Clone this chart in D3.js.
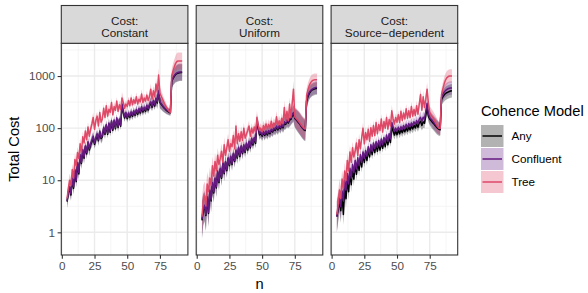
<!DOCTYPE html>
<html>
<head>
<meta charset="utf-8">
<script src="https://cdn.jsdelivr.net/npm/d3@7"></script>
<style>
  body { margin: 0; background: #fff; }
  svg text { font-family: "Liberation Sans", Arial, sans-serif; }
</style>
</head>
<body>
<svg id="chart" width="588" height="293"></svg>
<script>
// n values (x categories)
const nValues = [4,5,6,7,8,9,10,11,12,13,14,15,16,17,18,19,20,21,22,23,24,25,26,27,28,29,30,31,32,33,
  34,35,36,37,38,39,40,41,42,43,44,45,46,47,48,49,50,51,52,53,54,55,56,57,58,59,60,61,62,63,
  64,65,66,67,68,69,70,71,72,73,74,75,76,77,78,79,80,81,82,83,84,85,86,87,88,89,90,91,92];

const facetNames = ["Constant", "Uniform", "Source\u2212dependent"];
const models = ["Any", "Confluent", "Tree"];
const modelColors = ["#000004", "#641a80", "#de4968"];
const xTicks = [0, 25, 50, 75];
const xMinor = [12.5, 37.5, 62.5, 87.5];
const yTicks = [1, 10, 100, 1000];
const yMinor = [3.162, 31.62, 316.2, 3162];

// Cost: Constant
const constantAny = [3.9,5.7,7.2,5.2,10.5,7,15.2,9.4,21,13.2,
  29.5,21,37,26.5,44,32,52,38,48,55,
  66,49,61,74,57,84,63,68,99,76,
  112,76,120,83,133,91,137,97,150,103,
  143,109,276,200,157,190,152,185,162,195,
  169,204,176,217,185,226,195,245,204,239,
  211,261,223,271,304,252,323,266,361,304,
  500,310,287,265,246,232,219,209,202,198,
  780,895,990,1070,1115,1145,1160,1165,1165];
const constantConfluent = [4,6,7.5,5.5,11,7.5,16,10,22,14,
  31,22,39,28,46,34,55,40,50,58,
  70,52,64,78,60,88,66,72,104,80,
  118,80,126,88,140,96,144,102,158,108,
  150,115,290,210,165,200,160,195,170,205,
  178,215,185,228,195,238,205,258,215,252,
  222,275,235,285,320,265,340,280,380,320,
  520,320,295,272,253,238,225,215,208,203,
  800,920,1020,1100,1150,1180,1195,1200,1200];
const constantTree = [4.5,7,10,8,16,11,25,19,34,26,
  50,34,68,52,88,60,105,70,95,120,
  160,95,140,170,110,200,130,150,240,160,
  270,170,230,200,310,180,260,220,330,210,
  280,230,380,310,240,290,260,340,270,380,
  280,350,300,400,290,360,320,450,310,380,
  330,430,340,400,560,360,520,400,700,480,
  1050,470,410,360,315,280,250,228,212,200,
  1000,1250,1500,1750,1900,1950,1950,1950,1950];
const constantSpread = [1.35,1.3,1.35,1.3,1.3,1.35,1.3,1.3,1.28,1.3,
  1.28,1.3,1.25,1.3,1.25,1.28,1.25,1.3,1.22,1.28,
  1.25,1.22,1.28,1.22,1.25,1.2,1.25,1.22,1.2,1.25,
  1.22,1.2,1.25,1.2,1.22,1.2,1.22,1.18,1.2,1.22,
  1.2,1.18,1.3,1.22,1.2,1.18,1.2,1.18,1.2,1.22,
  1.18,1.2,1.18,1.22,1.18,1.2,1.18,1.25,1.18,1.2,
  1.18,1.22,1.2,1.22,1.28,1.2,1.25,1.2,1.3,1.3,
  1.35,1.3,1.28,1.25,1.22,1.2,1.18,1.16,1.15,1.15,
  1.35,1.38,1.4,1.42,1.45,1.45,1.45,1.45,1.45];

// Cost: Uniform
const uniformAny = [1.7,2.7,3.1,2.1,4.6,2.3,6.2,4.0,8.6,5.7,
  10.5,7.1,14.3,9,16.2,10.9,21,13.3,22,15.2,
  25.7,19,27.6,20,31.4,22.8,36,26.6,41,28.5,
  43.7,32.3,45.6,34.2,49.4,38,53.2,41.8,61,47.5,
  63,51,128,106,74,80,70,82,72,84,
  74,86,78,90,84,95,90,105,92,106,
  97,114,101,125,118,137,125,142,147,171,
  190,154,145,135,126,117,107,99,93,90,
  325,400,460,505,535,552,566,576,576];
const uniformConfluent = [1.8,2.8,3.3,2.2,4.8,2.4,6.5,4.2,9,6,
  11,7.5,15,9.5,17,11.5,22,14,23,16,
  27,20,29,21,33,24,38,28,43,30,
  46,34,48,36,52,40,56,44,64,50,
  66,54,135,112,78,84,74,86,76,88,
  78,90,82,95,88,100,95,110,97,112,
  102,120,106,132,124,144,132,150,155,180,
  200,160,150,140,130,120,110,102,96,93,
  340,420,480,525,555,575,590,600,600];
const uniformTree = [2,4,5,3.2,8.5,6,11,8,19,12,
  23,15,30,20,26,36,22,48,30,42,
  60,36,50,44,72,40,110,50,78,56,
  85,58,100,64,76,90,110,70,100,80,
  105,82,160,112,90,100,85,112,95,120,
  96,118,100,135,104,125,110,165,112,138,
  116,155,122,250,135,210,140,290,160,300,
  560,165,155,145,135,125,115,106,100,97,
  420,540,650,740,800,830,845,850,850];
const uniformSpread = [2.3,2.0,1.9,2.0,1.7,1.8,1.6,1.65,1.5,1.55,
  1.45,1.5,1.4,1.45,1.38,1.42,1.35,1.4,1.33,1.38,
  1.32,1.35,1.3,1.33,1.3,1.32,1.35,1.3,1.28,1.3,
  1.28,1.3,1.28,1.26,1.28,1.25,1.28,1.25,1.26,1.25,
  1.25,1.24,1.35,1.3,1.25,1.24,1.25,1.24,1.25,1.26,
  1.24,1.25,1.24,1.26,1.24,1.25,1.24,1.3,1.24,1.25,
  1.24,1.26,1.25,1.35,1.26,1.32,1.26,1.35,1.3,1.4,
  1.45,1.5,1.55,1.58,1.6,1.6,1.6,1.6,1.6,1.6,
  1.38,1.35,1.33,1.32,1.32,1.32,1.32,1.32,1.32];

// Cost: Source-dependent
const sourceAny = [2,2.8,3.9,2.6,5,2.2,6.8,4.4,10,6,
  13.5,8.2,16.5,10.5,20.5,13,23,15.5,26.5,18,
  31.5,22,33,24,38.5,28,42,31,46,34,
  48.5,36,51,38,55,41,57,44,64,48,
  68,53,108,88,74,88,75,92,78,94,
  82,96,85,102,88,106,92,110,96,114,
  101,120,104,126,135,112,132,124,176,240,
  170,150,140,130,122,114,106,100,95,93,
  350,395,430,460,478,492,505,515,520];
const sourceConfluent = [2,3.1,4.5,3.1,6.2,4,10,6.5,13.5,8.5,
  17,11,20,14,24,16.5,27,19,31,22,
  35,26,37,29,44,32,48,36,52,40,
  55,43,58,45,62,48,66,52,74,56,
  78,62,128,105,86,100,88,104,90,106,
  94,112,98,118,102,122,108,126,112,132,
  118,140,122,148,160,134,162,150,210,300,
  190,160,150,140,130,120,112,105,100,98,
  390,440,490,525,550,570,582,590,590];
const sourceTree = [2.2,3.4,6.5,4.5,10.5,7,15,10,24,15,
  35,22,42,28,36,52,30,60,40,66,
  100,50,82,60,95,56,102,70,112,72,
  128,78,118,90,150,84,134,100,160,96,
  146,110,215,150,120,160,130,180,128,210,
  140,195,150,235,155,215,160,260,170,228,
  175,270,185,290,440,220,400,250,360,560,
  300,200,180,165,150,135,120,108,100,98,
  440,560,700,830,920,970,1000,1000,1000];
const sourceSpread = [2.0,1.8,1.6,1.7,1.5,1.6,1.45,1.5,1.4,1.42,
  1.35,1.38,1.32,1.35,1.3,1.32,1.28,1.3,1.27,1.28,
  1.28,1.26,1.27,1.25,1.26,1.24,1.25,1.24,1.25,1.23,
  1.24,1.22,1.23,1.22,1.24,1.22,1.23,1.21,1.23,1.22,
  1.22,1.21,1.3,1.25,1.22,1.21,1.22,1.21,1.22,1.23,
  1.21,1.22,1.21,1.24,1.21,1.22,1.21,1.25,1.21,1.22,
  1.21,1.24,1.22,1.25,1.3,1.24,1.3,1.25,1.28,1.35,
  1.3,1.32,1.34,1.35,1.36,1.36,1.36,1.35,1.33,1.33,
  1.3,1.32,1.33,1.34,1.35,1.35,1.35,1.35,1.35];

const panels = [
  { name: facetNames[0], series: [constantAny, constantConfluent, constantTree], spread: constantSpread },
  { name: facetNames[1], series: [uniformAny, uniformConfluent, uniformTree], spread: uniformSpread },
  { name: facetNames[2], series: [sourceAny, sourceConfluent, sourceTree], spread: sourceSpread }
];

const svg = d3.select("#chart");
const panelTop = 43.3, panelBottom = 255, stripTop = 5.5;
const panelW = 126.6, gap = 8.3, left0 = 61.3;
const panelH = panelBottom - panelTop;

// ggplot-like 5% expansion of x
const ext = d3.extent(nValues);
const pad = (ext[1] - ext[0]) * 0.05;
const x = d3.scaleLinear().domain([ext[0] - pad, ext[1] + pad]).range([0, panelW]);
const y = d3.scaleLog().domain([0.367, 4250]).range([panelH, 0]);

const defs = svg.append("defs");
defs.append("clipPath").attr("id", "clip")
  .append("rect").attr("width", panelW).attr("height", panelH);

panels.forEach((p, pi) => {
  const px = left0 + pi * (panelW + gap);
  const g = svg.append("g").attr("transform", `translate(${px},${panelTop})`);

  // grid
  g.selectAll(".ymin").data(yMinor).enter().append("line")
    .attr("x1", 0).attr("x2", panelW).attr("y1", d => y(d)).attr("y2", d => y(d))
    .attr("stroke", "#f2f2f2").attr("stroke-width", 0.8);
  g.selectAll(".xmin").data(xMinor).enter().append("line")
    .attr("y1", 0).attr("y2", panelH).attr("x1", d => x(d)).attr("x2", d => x(d))
    .attr("stroke", "#f2f2f2").attr("stroke-width", 0.8);
  g.selectAll(".ymaj").data(yTicks).enter().append("line")
    .attr("x1", 0).attr("x2", panelW).attr("y1", d => y(d)).attr("y2", d => y(d))
    .attr("stroke", "#ebebeb").attr("stroke-width", 1.4);
  g.selectAll(".xmaj").data(xTicks).enter().append("line")
    .attr("y1", 0).attr("y2", panelH).attr("x1", d => x(d)).attr("x2", d => x(d))
    .attr("stroke", "#ebebeb").attr("stroke-width", 1.4);

  const plot = g.append("g").attr("clip-path", "url(#clip)");

  // ribbons
  p.series.forEach((vals, si) => {
    const area = d3.area()
      .x((d, i) => x(nValues[i]))
      .y0((d, i) => y(d / p.spread[i]))
      .y1((d, i) => y(d * p.spread[i]));
    plot.append("path").datum(vals)
      .attr("d", area)
      .attr("fill", modelColors[si])
      .attr("fill-opacity", 0.3);
  });
  // lines
  p.series.forEach((vals, si) => {
    const line = d3.line().x((d, i) => x(nValues[i])).y(d => y(d));
    plot.append("path").datum(vals)
      .attr("d", line)
      .attr("fill", "none")
      .attr("stroke", modelColors[si])
      .attr("stroke-width", 1.5)
      .attr("stroke-linejoin", "round");
  });

  // panel border
  g.append("rect").attr("width", panelW).attr("height", panelH)
    .attr("fill", "none").attr("stroke", "#333333").attr("stroke-width", 1.1);

  // strip
  const strip = svg.append("g").attr("transform", `translate(${px},${stripTop})`);
  strip.append("rect").attr("width", panelW).attr("height", panelTop - stripTop)
    .attr("fill", "#d9d9d9").attr("stroke", "#333333").attr("stroke-width", 1.1);
  strip.append("text").attr("x", panelW / 2).attr("y", 19.4)
    .attr("text-anchor", "middle").attr("font-size", 11.7).attr("fill", "#1a1a1a")
    .text("Cost:");
  strip.append("text").attr("x", panelW / 2).attr("y", 31)
    .attr("text-anchor", "middle").attr("font-size", 11.7).attr("fill", "#1a1a1a")
    .text(p.name);

  // x axis
  const xAxis = d3.axisBottom(x).tickValues(xTicks).tickSize(3.67).tickPadding(2.6)
    .tickFormat(d3.format("d"));
  const xg = g.append("g").attr("transform", `translate(0,${panelH})`).call(xAxis);
  xg.select(".domain").remove();
  xg.selectAll("line").attr("stroke", "#333333").attr("stroke-width", 1.1);
  xg.selectAll("text").attr("font-size", 11.7).attr("fill", "#4d4d4d")
    .attr("font-family", "Liberation Sans, Arial, sans-serif");

  if (pi === 0) {
    const yAxis = d3.axisLeft(y).tickValues(yTicks).tickSize(3.67).tickPadding(2.6)
      .tickFormat(d3.format("d"));
    const yg = g.append("g").call(yAxis);
    yg.select(".domain").remove();
    yg.selectAll("line").attr("stroke", "#333333").attr("stroke-width", 1.1);
    yg.selectAll("text").attr("font-size", 11.7).attr("fill", "#4d4d4d")
      .attr("font-family", "Liberation Sans, Arial, sans-serif");
  }
});

// axis titles
const plotRight = left0 + 3 * panelW + 2 * gap;
svg.append("text").attr("x", (left0 + plotRight) / 2).attr("y", 289)
  .attr("text-anchor", "middle").attr("font-size", 14.67).attr("fill", "#000")
  .text("n");
svg.append("text").attr("transform", `translate(19.2,${(panelTop + panelBottom) / 2}) rotate(-90)`)
  .attr("text-anchor", "middle").attr("font-size", 14.67).attr("fill", "#000")
  .text("Total Cost");

// legend
const lg = svg.append("g").attr("transform", "translate(481,0)");
lg.append("text").attr("x", 0).attr("y", 116).attr("font-size", 14.67).attr("fill", "#000")
  .text("Cohence Model");
models.forEach((m, i) => {
  const ky = 125 + i * 23;
  lg.append("rect").attr("x", 0).attr("y", ky).attr("width", 22.5).attr("height", 22)
    .attr("fill", modelColors[i]).attr("fill-opacity", 0.3);
  lg.append("line").attr("x1", 1.5).attr("x2", 21).attr("y1", ky + 11).attr("y2", ky + 11)
    .attr("stroke", modelColors[i]).attr("stroke-width", 1.5);
  lg.append("text").attr("x", 30.5).attr("y", ky + 15.3).attr("font-size", 11.7).attr("fill", "#000")
    .text(m);
});
</script>
</body>
</html>
